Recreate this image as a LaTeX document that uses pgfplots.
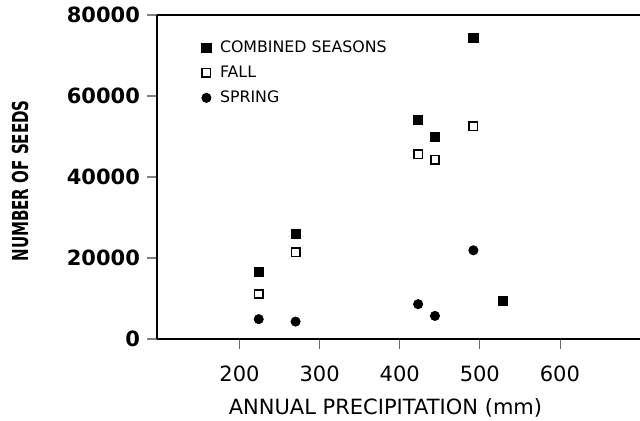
\documentclass[border=0pt]{standalone}
\usepackage{fontspec}
\setmainfont{DejaVu Sans}
\newfontfamily\condfont{DejaVu Sans Condensed}
\usepackage{pgfplots}
\pgfplotsset{compat=1.18}

\begin{document}
\begin{tikzpicture}
\useasboundingbox (-78.5pt,-41pt) rectangle (241.5pt,169.5pt);
\begin{axis}[
  at={(0,0)}, anchor=south west,
  scale only axis,
  width=241.5pt, height=162pt,
  xmin=97, xmax=700,
  ymin=0, ymax=80000,
  axis x line=box,
  axis y line=left,
  axis line style={-, line width=1pt},
  xtick={200,300,400,500,600},
  ytick={0,20000,40000,60000,80000},
  xtick pos=bottom, ytick pos=left,
  tick align=outside,
  major tick length=5pt,
  xtick style={line width=0.4pt, black!60},
  ytick style={line width=1pt},
  scaled y ticks=false,
  /pgf/number format/1000 sep={},
  /pgf/number format/assume math mode=true,
  yticklabel style={font=\bfseries\fontsize{10.5}{12}\selectfont},
  xticklabel style={font=\fontsize{10.5}{12}\selectfont, yshift=-5pt},
  xlabel={ANNUAL PRECIPITATION (mm)},
  xlabel style={font=\fontsize{10.5}{12}\selectfont,
    at={(axis description cs:0.473,-0.213)}, anchor=center},
  ylabel={\scalebox{0.76}[1]{\condfont\bfseries NUMBER OF SEEDS}},
  ylabel style={font=\fontsize{11}{12}\selectfont,
    at={(axis description cs:-0.2836,0.488)}, anchor=center},
  legend style={at={(axis description cs:0.092,0.935)}, anchor=north west,
    draw=none, fill=none, font=\fontsize{7.9}{8.5}\selectfont,
    row sep=1.2pt, inner sep=0pt},
  legend cell align=left,
]
\addplot[only marks, mark=square*, mark size=2.3pt, black] coordinates {
  (224,16500) (270,26000) (423,54000) (444,49900) (492,74300) (529,9500)
};
\addlegendentry{\hspace{2.5pt}COMBINED SEASONS}
\addplot[only marks, mark=square, mark size=2.1pt, black,
  mark options={line width=0.8pt, fill=white}] coordinates {
  (224,11100) (270,21400) (423,45600) (444,44300) (492,52500)
};
\addlegendentry{\hspace{2.5pt}FALL}
\addplot[only marks, mark=*, mark size=2.3pt, black] coordinates {
  (224,4900) (270,4300) (423,8600) (444,5700) (492,21900)
};
\addlegendentry{\hspace{2.5pt}SPRING}
\end{axis}
\end{tikzpicture}
\end{document}
